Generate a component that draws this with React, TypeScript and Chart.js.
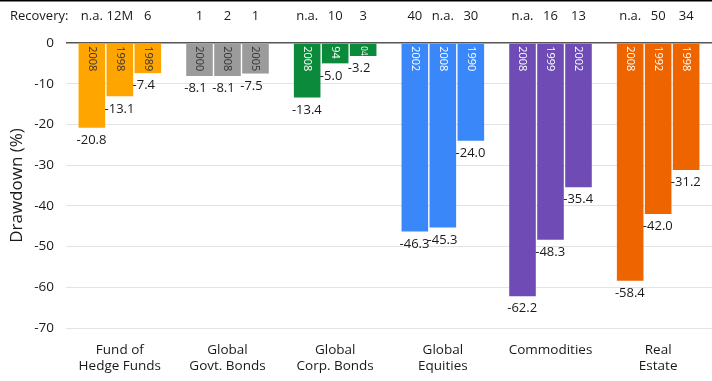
import React, { useEffect, useRef } from 'react';
import { Chart, registerables } from 'chart.js';

Chart.register(...registerables);

const categories: string[][] = [
  ['Fund of', 'Hedge Funds'],
  ['Global', 'Govt. Bonds'],
  ['Global', 'Corp. Bonds'],
  ['Global', 'Equities'],
  ['Commodities'],
  ['Real', 'Estate'],
];
const drawdown1 = [-20.8, -8.1, -13.4, -46.3, -62.2, -58.4];
const drawdown2 = [-13.1, -8.1, -5.0, -45.3, -48.3, -42.0];
const drawdown3 = [-7.4, -7.5, -3.2, -24.0, -35.4, -31.2];
const years1 = ['2008', '2000', '2008', '2002', '2008', '2008'];
const years2 = ['1998', '2008', '94', '2008', '1999', '1992'];
const years3 = ['1989', '2005', '04', '1990', '2002', '1998'];
const recovery1 = ['n.a.', '1', 'n.a.', '40', 'n.a.', 'n.a.'];
const recovery2 = ['12M', '2', '10', 'n.a.', '16', '50'];
const recovery3 = ['6', '1', '3', '30', '13', '34'];
const barColors = ['#FFA500', '#9B9B9B', '#0C8A3B', '#3A87FA', '#6E4BB5', '#EE6500'];
const yearTextColors = ['#333333', '#333333', '#FFFFFF', '#FFFFFF', '#FFFFFF', '#FFFFFF'];
const yTicks = [0, -10, -20, -30, -40, -50, -60, -70];

const FONT = '"Open Sans", "Noto Sans", sans-serif';

const years = [years1, years2, years3];
const recoveries = [recovery1, recovery2, recovery3];

const annotate = {
  id: 'annotate',
  afterDatasetsDraw(chart: any) {
    const ctx = chart.ctx;
    ctx.save();
    // top border line
    ctx.fillStyle = '#000';
    ctx.fillRect(0, 0, chart.width, 1.5);
    // Recovery row
    ctx.fillStyle = '#1a1a1a';
    ctx.font = `13px ${FONT}`;
    ctx.textBaseline = 'middle';
    ctx.textAlign = 'left';
    ctx.fillText('Recovery:', 10, 16);
    for (let d = 0; d < 3; d++) {
      const meta = chart.getDatasetMeta(d);
      meta.data.forEach((bar: any, i: number) => {
        ctx.fillStyle = '#1a1a1a';
        ctx.font = `13px ${FONT}`;
        ctx.textAlign = 'center';
        ctx.textBaseline = 'middle';
        ctx.fillText(recoveries[d][i], bar.x, 16);
        // value labels
        const v = chart.data.datasets[d].data[i];
        ctx.textAlign = 'left';
        ctx.textBaseline = 'top';
        ctx.fillText(v.toFixed(1), bar.x - bar.width / 2 - 2, bar.y + 6);
        // year labels rotated
        const h = bar.y - bar.base;
        let size = 11;
        ctx.font = `${size}px ${FONT}`;
        const w = ctx.measureText(years[d][i]).width;
        const room = h - 3;
        if (w > room) {
          size = Math.max(8, (size * room) / w);
        }
        ctx.save();
        ctx.translate(bar.x, bar.base + 2.5);
        ctx.rotate(Math.PI / 2);
        ctx.fillStyle = yearTextColors[i];
        ctx.font = `${size}px ${FONT}`;
        ctx.textAlign = 'left';
        ctx.textBaseline = 'middle';
        ctx.fillText(years[d][i], 0, 0);
        ctx.restore();
      });
    }
    ctx.restore();
  },
};

export default function App() {
  const ref = useRef<HTMLCanvasElement>(null);
  useEffect(() => {
    document.body.style.margin = '0';
    const mk = (data: number[]) => ({
      data,
      backgroundColor: barColors,
      borderWidth: 0,
      barPercentage: 0.95,
      categoryPercentage: 0.78,
    });
    const chart = new Chart(ref.current!, {
      type: 'bar',
      data: {
        labels: categories,
        datasets: [mk(drawdown1), mk(drawdown2), mk(drawdown3)],
      },
      options: {
        animation: false,
        responsive: false,
        maintainAspectRatio: false,
        layout: { padding: { top: 43, right: 0, left: 0, bottom: 0 } },
        plugins: { legend: { display: false }, tooltip: { enabled: false } },
        scales: {
          x: {
            grid: { display: false },
            border: { display: false },
            ticks: {
              color: '#1a1a1a',
              font: { family: FONT, size: 13.5 },
              maxRotation: 0,
              autoSkip: false,
              padding: 6,
            },
            afterFit: (s: any) => {
              s.height = 53;
            },
          },
          y: {
            min: -70,
            max: 0,
            afterBuildTicks: (s: any) => {
              s.ticks = yTicks.map((v) => ({ value: v }));
            },
            grid: {
              color: (c: any) => (c.tick && c.tick.value === 0 ? '#555555' : '#E3E3E3'),
              lineWidth: (c: any) => (c.tick && c.tick.value === 0 ? 1.5 : 1),
              drawTicks: false,
            },
            border: { display: false },
            ticks: {
              color: '#1a1a1a',
              font: { family: FONT, size: 13.5 },
              padding: 12,
            },
            title: {
              display: true,
              text: 'Drawdown (%)',
              color: '#1a1a1a',
              font: { family: FONT, size: 17 },
              padding: { top: 7, bottom: 0 },
            },
            afterFit: (s: any) => {
              s.width = 66;
            },
          },
        },
      },
      plugins: [annotate],
    });
    return () => chart.destroy();
  }, []);
  return (
    <div style={{ position: 'absolute', left: 0, top: 0, width: 712, height: 381, background: '#fff' }}>
      <canvas ref={ref} width={712} height={381} style={{ width: 712, height: 381 }} />
    </div>
  );
}
